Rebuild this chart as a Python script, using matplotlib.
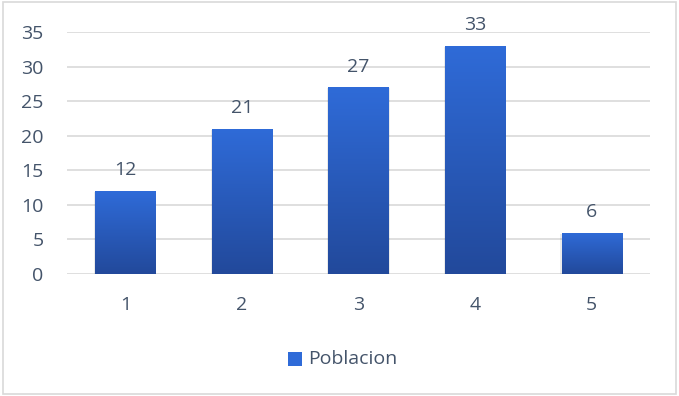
import matplotlib
matplotlib.use("Agg")
import matplotlib.pyplot as plt
import numpy as np
from matplotlib.colors import LinearSegmentedColormap
from matplotlib.patches import Rectangle

categories = ["1", "2", "3", "4", "5"]
values = [12, 21, 27, 33, 6]
series_name = "Poblacion"
yticks = [0, 5, 10, 15, 20, 25, 30, 35]

plt.rcParams['font.family'] = ['Open Sans', 'DejaVu Sans']
text_color = "#44546A"
top_col = "#2F6BD8"
bot_col = "#22499B"
fs = 14

fig = plt.figure(figsize=(6.79, 3.96), dpi=100)
fig.patches.append(Rectangle((0.004, 0.004), 0.992, 0.99, transform=fig.transFigure,
                             fill=False, edgecolor="#D9D9D9", linewidth=1.2))
ax = fig.add_axes([0.0987, 0.308, 0.8583, 0.611])

x = np.arange(len(categories))
bars = ax.bar(x, values, width=0.515, color=top_col, zorder=3)
cmap = LinearSegmentedColormap.from_list("g", [bot_col, top_col])
grad = np.linspace(0, 1, 256).reshape(-1, 1)
for b, v in zip(bars, values):
    bx, by, bw, bh = b.get_x(), b.get_y(), b.get_width(), b.get_height()
    # subtle shadow
    ax.add_patch(Rectangle((bx - 0.01, by - 0.35), bw + 0.02, bh + 0.2,
                           facecolor="#000000", alpha=0.08, edgecolor="none", zorder=2))
    im = ax.imshow(grad, cmap=cmap, origin="lower", aspect="auto",
                   extent=[bx, bx + bw, by, by + bh], zorder=4)
    im.set_clip_path(b)
    ax.text(bx + bw / 2, bh + 1.7, f"{v}", ha="center", va="bottom",
            fontsize=fs, color=text_color, zorder=5)

ax.set_xlim(-0.5, len(categories) - 0.5)
ax.set_ylim(0, 35)
ax.set_yticks(yticks)
ax.set_xticks(x)
ax.set_xticklabels(categories)
ax.yaxis.grid(True, color="#D9D9D9", linewidth=1.2, zorder=0)
ax.set_axisbelow(True)
for s in ax.spines.values():
    s.set_visible(False)
ax.tick_params(axis="both", length=0, labelsize=fs, colors=text_color)
ax.tick_params(axis="y", pad=17)
ax.tick_params(axis="x", pad=16)

# legend
fig.patches.append(Rectangle((288 / 679, 1 - 366 / 396), 14 / 679, 14 / 396,
                             transform=fig.transFigure, facecolor=top_col, edgecolor="none"))
fig.text(308 / 679, 1 - 359 / 396, series_name, ha="left", va="center",
         fontsize=fs, color=text_color)

fig.savefig("out.png", dpi=100)
